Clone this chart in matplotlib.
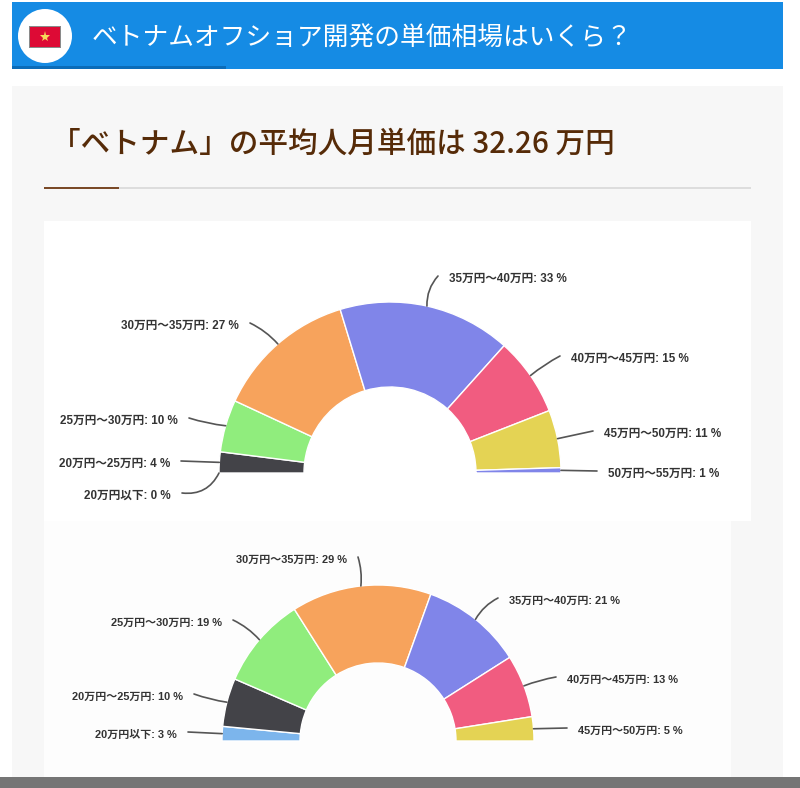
import math
import matplotlib
matplotlib.use('Agg')
import matplotlib.pyplot as plt
from matplotlib.patches import Rectangle, Circle

plt.rcParams['font.family'] = ['Liberation Sans', 'Noto Sans CJK JP', 'DejaVu Sans']
CJK = ['Noto Sans CJK JP', 'DejaVu Sans']

# data
header_text = 'ベトナムオフショア開発の単価相場はいくら？'
title_text = '「ベトナム」の平均人月単価は 32.26 万円'

top_labels = ['20万円以下', '20万円〜25万円', '25万円〜30万円', '30万円〜35万円',
              '35万円〜40万円', '40万円〜45万円', '45万円〜50万円', '50万円〜55万円']
top_values = [0, 4, 10, 27, 33, 15, 11, 1]
top_colors = ['#7cb5ec', '#434348', '#90ed7d', '#f7a35c', '#8085e9', '#f15c80', '#e4d354', '#8085e9']

bottom_labels = ['20万円以下', '20万円〜25万円', '25万円〜30万円', '30万円〜35万円',
                 '35万円〜40万円', '40万円〜45万円', '45万円〜50万円']
bottom_values = [3, 10, 19, 29, 21, 13, 5]
bottom_colors = ['#7cb5ec', '#434348', '#90ed7d', '#f7a35c', '#8085e9', '#f15c80', '#e4d354']

# label layout, in picture pixels: text x, text y, alignment, curve
top_layout = [(171, 496, 'right', 0.35), (170, 464, 'right', 0), (178, 421, 'right', 0.05),
              (239, 326, 'right', -0.1), (449, 279, 'left', 0.2), (571, 359, 'left', 0.05),
              (604, 434, 'left', 0), (608, 474, 'left', 0)]
bottom_layout = [(177, 735, 'right', 0), (183, 697, 'right', 0.05), (222, 623, 'right', -0.1),
                 (347, 560, 'right', -0.1), (509, 601, 'left', 0.15), (567, 680, 'left', 0.05),
                 (578, 731, 'left', 0)]

H = 788


def Y(y):
    return H - y


def box(ax, x0, y0, x1, y1, color, z=1):
    ax.add_patch(Rectangle((x0, Y(y1)), x1 - x0, y1 - y0, color=color, lw=0, zorder=z))


def half_donut(ax, values, colors, labels, layout, cx, cy, r, inner, fs):
    total = sum(values)
    wedges, _ = ax.pie(values + [total], colors=colors + ['white'], center=(cx, Y(cy)), radius=r,
                       startangle=180, counterclock=False, normalize=True,
                       wedgeprops=dict(width=r - inner, edgecolor='white', linewidth=1))
    wedges[-1].set_visible(False)
    for w, name, v, (tx, ty, ha, rad) in zip(wedges, labels, values, layout):
        w.set_zorder(3)
        a = math.radians((w.theta1 + w.theta2) / 2)
        px = cx + r * math.cos(a)
        py = Y(cy) + r * math.sin(a)
        gap = -11 if ha == 'left' else 11
        ax.annotate(f'{name}: {v} %', xy=(px, py), xytext=(tx, Y(ty)), ha=ha, va='center',
                    fontsize=fs, fontweight='bold', color='#333333', zorder=5)
        ax.annotate('', xy=(px, py), xytext=(tx + gap, Y(ty - 3)), zorder=4,
                    arrowprops=dict(arrowstyle='-', color='#555555', lw=1.2, shrinkA=0, shrinkB=0,
                                    connectionstyle=f'arc3,rad={rad}'))


fig = plt.figure(figsize=(8, 7.88), dpi=100)
ax = fig.add_axes([0, 0, 1, 1])

# charts
half_donut(ax, top_values, top_colors, top_labels, top_layout, 390, 473, 171, 86, 8.4)
half_donut(ax, bottom_values, bottom_colors, bottom_labels, bottom_layout, 378, 741, 156, 78, 7.9)

ax.set_xlim(0, 800)
ax.set_ylim(0, H)
ax.set_aspect('auto')
ax.axis('off')

# page
box(ax, 12, 86, 783, 777, '#f7f7f7', 0)
box(ax, 44, 221, 751, 521, 'white', 1)
box(ax, 44, 521, 731, 777, '#fdfdfd', 1)
box(ax, 0, 777, 800, 788, '#757575', 2)

# header
box(ax, 12, 2, 783, 69, '#158be4')
box(ax, 12, 66, 226, 69, '#0b6cb8', 2)
ax.add_patch(Circle((45, Y(36)), 27, color='white', lw=0, zorder=2))
box(ax, 29, 26, 61, 48, '#8a8a8a', 3)
box(ax, 30, 27, 60, 47, '#dd0a35', 4)
ax.plot([45], [Y(37)], marker='*', ms=8, color='#f6d95a', mew=0, zorder=5)
ax.text(92, Y(39), header_text, color='white', fontsize=18.5, va='center', ha='left',
        family=CJK, zorder=3)

# title
ax.text(51, Y(144), title_text, color='#562b08', fontsize=21.3, fontweight='medium',
        va='center', ha='left', family=CJK, zorder=3)
box(ax, 44, 187, 751, 189, '#dddddd', 2)
box(ax, 44, 187, 119, 188.5, '#7a4a28', 3)

fig.savefig('out.png', dpi=100)
